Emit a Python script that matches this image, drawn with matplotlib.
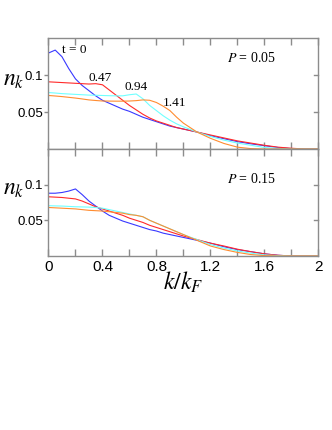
import matplotlib
matplotlib.use("Agg")
import matplotlib.pyplot as plt
from matplotlib.ticker import FixedLocator

plt.rcParams['mathtext.fontset'] = 'stix'

# momentum grid k/kF
k = [0.0, 0.05, 0.1, 0.15, 0.2, 0.25, 0.3, 0.35, 0.4, 0.45, 0.5, 0.55, 0.6, 0.65,
     0.7, 0.75, 0.8, 0.85, 0.9, 0.95, 1.0, 1.1, 1.2, 1.3, 1.4, 1.5, 1.6, 1.7,
     1.8, 1.9, 2.0]

# P = 0.05
top_t0 = [0.130, 0.134, 0.125, 0.109, 0.095, 0.086, 0.079, 0.072, 0.066, 0.062,
          0.058, 0.054, 0.051, 0.047, 0.043, 0.040, 0.037, 0.034, 0.031, 0.029,
          0.027, 0.023, 0.018, 0.014, 0.010, 0.007, 0.0045, 0.002, 0.0005, 0.0, 0.0]
top_t047 = [0.091, 0.0905, 0.090, 0.0895, 0.089, 0.0885, 0.088, 0.0885, 0.087, 0.080,
            0.073, 0.066, 0.059, 0.053, 0.047, 0.042, 0.038, 0.035, 0.032, 0.029,
            0.027, 0.023, 0.019, 0.015, 0.011, 0.008, 0.005, 0.0025, 0.001, 0.0, 0.0]
top_t094 = [0.0765, 0.0758, 0.075, 0.0745, 0.074, 0.0735, 0.073, 0.0728, 0.0725, 0.0722,
            0.072, 0.072, 0.0735, 0.0745, 0.068, 0.059, 0.052, 0.045, 0.039, 0.034,
            0.030, 0.023, 0.017, 0.012, 0.008, 0.005, 0.002, 0.0008, 0.0, 0.0, 0.0]
top_t141 = [0.0725, 0.0718, 0.071, 0.070, 0.069, 0.0678, 0.0665, 0.0657, 0.065, 0.0649,
            0.0648, 0.0648, 0.065, 0.0655, 0.0665, 0.066, 0.063, 0.058, 0.052, 0.043,
            0.035, 0.023, 0.0145, 0.0075, 0.0025, 0.0005, 0.0, 0.0, 0.0, 0.0, 0.0]

# P = 0.15
bot_t0 = [0.088, 0.088, 0.089, 0.091, 0.094, 0.086, 0.077, 0.070, 0.063, 0.057,
          0.053, 0.049, 0.046, 0.043, 0.040, 0.037, 0.035, 0.032, 0.030, 0.028,
          0.026, 0.022, 0.018, 0.013, 0.009, 0.006, 0.003, 0.001, 0.0, 0.0, 0.0]
bot_t047 = [0.083, 0.0825, 0.082, 0.081, 0.080, 0.077, 0.073, 0.069, 0.066, 0.063,
            0.060, 0.057, 0.053, 0.050, 0.047, 0.043, 0.040, 0.037, 0.034, 0.031,
            0.028, 0.023, 0.018, 0.014, 0.0095, 0.006, 0.003, 0.001, 0.0, 0.0, 0.0]
bot_t094 = [0.0705, 0.0702, 0.070, 0.0695, 0.069, 0.0688, 0.0685, 0.068, 0.067, 0.065,
            0.063, 0.061, 0.059, 0.057, 0.055, 0.050, 0.046, 0.042, 0.038, 0.034,
            0.030, 0.023, 0.016, 0.011, 0.007, 0.004, 0.0015, 0.0005, 0.0, 0.0, 0.0]
bot_t141 = [0.068, 0.0675, 0.067, 0.0665, 0.066, 0.065, 0.064, 0.0635, 0.063, 0.062,
            0.061, 0.060, 0.058, 0.057, 0.055, 0.050, 0.046, 0.042, 0.038, 0.034,
            0.030, 0.022, 0.014, 0.009, 0.005, 0.002, 0.0005, 0.0, 0.0, 0.0, 0.0]

x_ticks = [0.0, 0.4, 0.8, 1.2, 1.6, 2.0]
x_minor = [0.2, 0.6, 1.0, 1.4, 1.8]
x_labels = ['0', '0.4', '0.8', '1.2', '1.6', '2']
y_ticks = [0.05, 0.1]
y_labels = ['0.05', '0.1']

colors = ['#3838ff', '#ff2a2a', '#70ffff', '#ff8c30']
gray = '#8c8c8c'

fig = plt.figure(figsize=(3.32, 4.30), dpi=100)
ax1 = fig.add_axes([0.146, 0.6535, 0.813, 0.2575])
ax2 = fig.add_axes([0.146, 0.4047, 0.813, 0.2488])

for ax, curves in [(ax1, [top_t0, top_t047, top_t094, top_t141]),
                   (ax2, [bot_t0, bot_t047, bot_t094, bot_t141])]:
    for y, c in zip(curves, colors):
        ax.plot(k, y, color=c, lw=0.8)
    # inward ticks on the right side
    for yv in y_ticks:
        ax.plot([0.985, 1.0], [yv, yv], color=gray, lw=1, clip_on=False,
                transform=ax.get_yaxis_transform())
    ax.set_xlim(0, 2)
    ax.set_ylim(0, 0.15)
    for s in ax.spines.values():
        s.set_color(gray)
        s.set_linewidth(1.0)
    ax.xaxis.set_major_locator(FixedLocator(x_ticks))
    ax.xaxis.set_minor_locator(FixedLocator(x_minor))
    ax.yaxis.set_major_locator(FixedLocator(y_ticks))
    ax.set_yticklabels(y_labels)
    ax.tick_params(axis='x', which='both', direction='in', top=True, bottom=True,
                   length=5, color=gray, width=1)
    ax.tick_params(axis='y', which='both', direction='out', left=True, right=False,
                   length=3, color=gray, width=1, labelsize=9.5, pad=1)
    for lab in ax.get_yticklabels():
        lab.set_family('Liberation Sans')
    ax.set_ylabel(r'$n_k$', fontsize=17, rotation=0, labelpad=0)
    ax.yaxis.set_label_coords(-0.13, 0.52)

ax1.tick_params(axis='x', labelbottom=False)
ax2.set_xticklabels(x_labels)
ax2.tick_params(axis='x', labelsize=11, pad=3)
for lab in ax2.get_xticklabels():
    lab.set_family('Liberation Sans')
ax2.set_xlabel(r'$k/k_F$', fontsize=17, labelpad=-3)

serif = 'Liberation Serif'
ax1.text(1.32, 0.123, r'$P$ = 0.05', fontsize=10, family=serif, va='center')
ax2.text(1.32, 0.108, r'$P$ = 0.15', fontsize=10, family=serif, va='center')
ax1.text(0.1, 0.134, 't = 0', fontsize=9.5, family=serif, va='center')
ax1.text(0.30, 0.096, '0.47', fontsize=9.5, family=serif, va='center')
ax1.text(0.565, 0.0836, '0.94', fontsize=9.5, family=serif, va='center')
ax1.text(0.85, 0.062, '1.41', fontsize=9.5, family=serif, va='center')

fig.savefig('out.png', dpi=100)
